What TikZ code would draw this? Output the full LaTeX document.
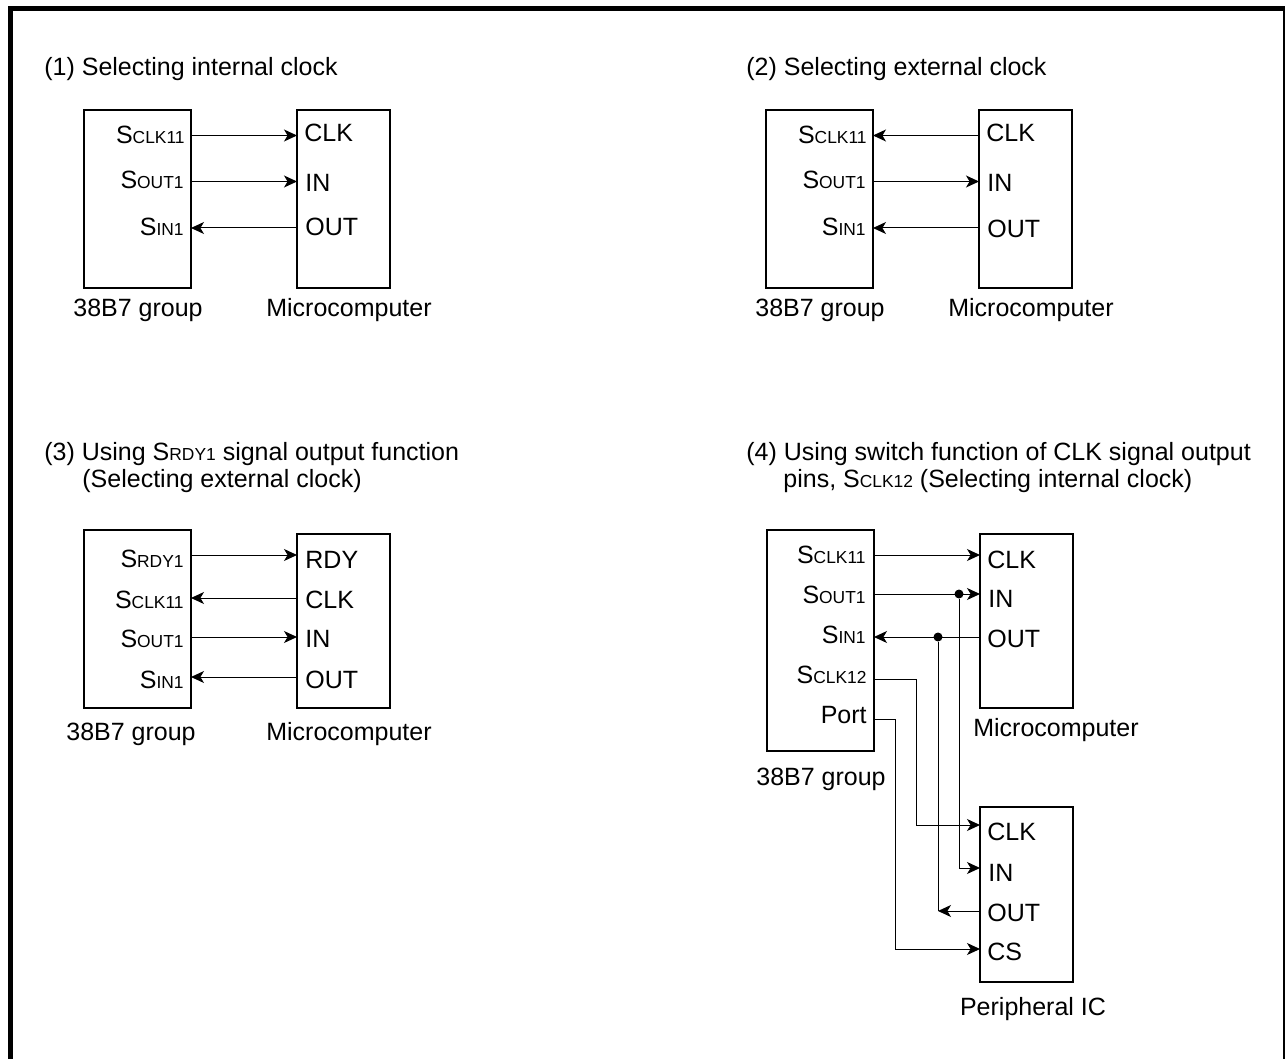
\documentclass[tikz,border=0pt]{standalone}
\usepackage{fontspec}
\setmainfont{Liberation Sans}
\usetikzlibrary{arrows.meta, positioning, calc}
\newcommand{\sig}[1]{S{\fontsize{8.7}{10}\selectfont #1}}

\begin{document}
\begin{tikzpicture}[
  x=0.5pt, y=-0.5pt,
  chipbox/.style={rectangle, draw, line width=0.75pt, inner sep=0pt, outer sep=0pt},
  pinleft/.style={anchor=base east, inner sep=0pt, font=\fontsize{12.5}{15}\selectfont},
  pinright/.style={anchor=base west, inner sep=0pt, font=\fontsize{12.5}{15}\selectfont},
  caption/.style={anchor=base, inner sep=0pt, font=\fontsize{12.5}{15}\selectfont},
  heading/.style={anchor=base west, inner sep=0pt, font=\fontsize{12.5}{15}\selectfont},
  wire/.style={line width=0.5pt},
  sigarrow/.style={wire, -{Stealth[length=6.5pt, width=6pt, inset=1.8pt]}},
  joint/.style={circle, fill, inner sep=0pt, minimum size=4.5pt}
]

\useasboundingbox (0,0) rectangle (1285,1059);
\draw[line width=2.5pt] (10.5,1059) -- (10.5,8.5) -- (1285.8,8.5) -- (1285.8,1059);

\node[heading] (title1) at (44,76) {(1) Selecting internal clock};
\node[chipbox, minimum width=53.5pt, minimum height=89pt] (grp1) at (137.5,199) {};
\node[chipbox, minimum width=46.5pt, minimum height=89pt] (mcu1) at (343.5,199) {};
\node[pinleft] (grp1clk) at (185,144) {\sig{CLK11}};
\node[pinleft] (grp1out) at (184,189) {\sig{OUT1}};
\node[pinleft] (grp1in) at (184,236) {\sig{IN1}};
\node[pinright] (mcu1clk) at (304,142) {CLK};
\node[pinright] (mcu1in) at (305,192) {IN};
\node[pinright] (mcu1out) at (305,236) {OUT};
\node[caption] (grp1name) at (138,316) {38B7 group};
\node[caption] (mcu1name) at (349,316) {Microcomputer};
\draw[sigarrow] ([shift={(0,25.5)}]grp1.north east) -- ([shift={(0,25.5)}]mcu1.north west);
\draw[sigarrow] ([shift={(0,71.5)}]grp1.north east) -- ([shift={(0,71.5)}]mcu1.north west);
\draw[sigarrow] ([shift={(0,118)}]mcu1.north west) -- ([shift={(0,118)}]grp1.north east);

\node[heading] (title2) at (746,76) {(2) Selecting external clock};
\node[chipbox, minimum width=53.5pt, minimum height=89pt] (grp2) at (819.5,199) {};
\node[chipbox, minimum width=46.5pt, minimum height=89pt] (mcu2) at (1025.5,199) {};
\node[pinleft] (grp2clk) at (867,144) {\sig{CLK11}};
\node[pinleft] (grp2out) at (866,189) {\sig{OUT1}};
\node[pinleft] (grp2in) at (866,236) {\sig{IN1}};
\node[pinright] (mcu2clk) at (986,142) {CLK};
\node[pinright] (mcu2in) at (987,192) {IN};
\node[pinright] (mcu2out) at (987,238) {OUT};
\node[caption] (grp2name) at (820,316) {38B7 group};
\node[caption] (mcu2name) at (1031,316) {Microcomputer};
\draw[sigarrow] ([shift={(0,25.5)}]mcu2.north west) -- ([shift={(0,25.5)}]grp2.north east);
\draw[sigarrow] ([shift={(0,71.5)}]grp2.north east) -- ([shift={(0,71.5)}]mcu2.north west);
\draw[sigarrow] ([shift={(0,118)}]mcu2.north west) -- ([shift={(0,118)}]grp2.north east);

\node[heading] (title3a) at (44,460) {(3) Using \sig{RDY1} signal output function};
\node[heading] (title3b) at (82,487) {(Selecting external clock)};
\node[chipbox, minimum width=53.5pt, minimum height=89pt] (grp3) at (137.5,619) {};
\node[chipbox, minimum width=46.5pt, minimum height=87pt] (mcu3) at (343.5,621) {};
\node[pinleft] (grp3rdy) at (184,567) {\sig{RDY1}};
\node[pinleft] (grp3clk) at (184,608) {\sig{CLK11}};
\node[pinleft] (grp3out) at (184,647) {\sig{OUT1}};
\node[pinleft] (grp3in) at (184,688) {\sig{IN1}};
\node[pinright] (mcu3rdy) at (305,568) {RDY};
\node[pinright] (mcu3clk) at (305,608) {CLK};
\node[pinright] (mcu3in) at (305,647) {IN};
\node[pinright] (mcu3out) at (305,688) {OUT};
\node[caption] (grp3name) at (131,740) {38B7 group};
\node[caption] (mcu3name) at (349,740) {Microcomputer};
\draw[sigarrow] ([shift={(0,25)}]grp3.north east) -- ([shift={(0,21)}]mcu3.north west);
\draw[sigarrow] ([shift={(0,64)}]mcu3.north west) -- ([shift={(0,68)}]grp3.north east);
\draw[sigarrow] ([shift={(0,107)}]grp3.north east) -- ([shift={(0,103)}]mcu3.north west);
\draw[sigarrow] ([shift={(0,143)}]mcu3.north west) -- ([shift={(0,147)}]grp3.north east);

\node[heading] (title4a) at (746,460) {(4) Using switch function of CLK signal output};
\node[heading] (title4b) at (783,487) {pins, \sig{CLK12} (Selecting internal clock)};
\node[chipbox, minimum width=53.5pt, minimum height=110.5pt] (grp4) at (820.5,640.5) {};
\node[chipbox, minimum width=46.5pt, minimum height=87pt] (mcu4) at (1026.5,621) {};
\node[chipbox, minimum width=46.5pt, minimum height=87.5pt] (per4) at (1026.5,894.5) {};
\node[pinleft] (grp4clk) at (866,563) {\sig{CLK11}};
\node[pinleft] (grp4out) at (866,603) {\sig{OUT1}};
\node[pinleft] (grp4in) at (866,643) {\sig{IN1}};
\node[pinleft] (grp4clkb) at (867,683) {\sig{CLK12}};
\node[pinleft] (grp4port) at (867,723) {Port};
\node[pinright] (mcu4clk) at (987,568) {CLK};
\node[pinright] (mcu4in) at (988,607) {IN};
\node[pinright] (mcu4out) at (987,647) {OUT};
\node[pinright] (per4clk) at (987,840) {CLK};
\node[pinright] (per4in) at (988,881) {IN};
\node[pinright] (per4out) at (987,921) {OUT};
\node[pinright] (per4cs) at (987,960) {CS};
\node[caption] (grp4name) at (821,785) {38B7 group};
\node[caption] (mcu4name) at (1056,736) {Microcomputer};
\node[caption] (per4name) at (1033,1015) {Peripheral IC};
\node[joint] (joint4out) at (959,594) {};
\node[joint] (joint4in) at (938,637) {};
\coordinate (tip4out) at (938,911);
\draw[sigarrow] ([shift={(0,25)}]grp4.north east) -- ([shift={(0,21)}]mcu4.north west);
\draw[sigarrow] ([shift={(0,64)}]grp4.north east) -- ([shift={(0,60)}]mcu4.north west);
\draw[sigarrow] ([shift={(0,103)}]mcu4.north west) -- ([shift={(0,107)}]grp4.north east);
\draw[sigarrow] ([shift={(0,149)}]grp4.north east) -- ++(42,0) |- ([shift={(0,18)}]per4.north west);
\draw[sigarrow] ([shift={(0,189)}]grp4.north east) -- ++(21,0) |- ([shift={(0,142)}]per4.north west);
\draw[sigarrow] (joint4out) |- ([shift={(0,61)}]per4.north west);
\draw[sigarrow] ([shift={(0,104)}]per4.north west) -- (tip4out);
\draw[wire] (joint4in) -- (tip4out);

\end{tikzpicture}
\end{document}
